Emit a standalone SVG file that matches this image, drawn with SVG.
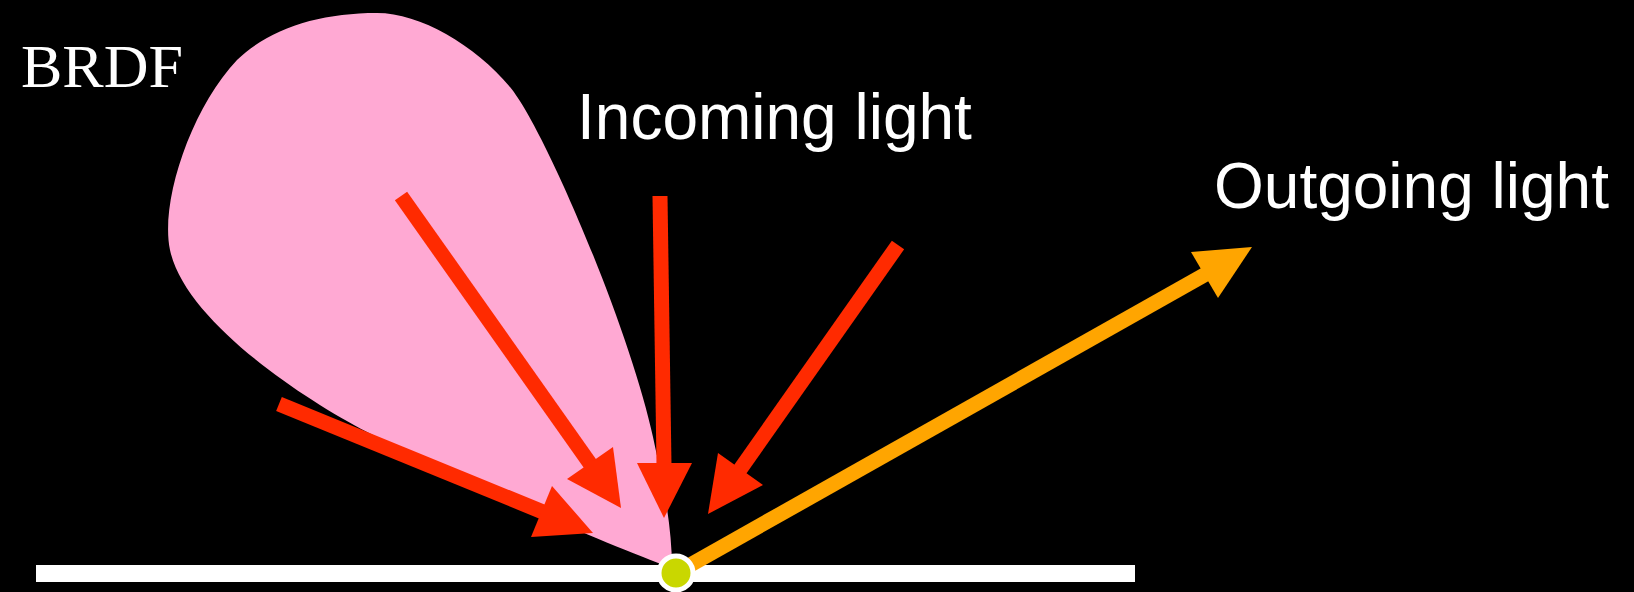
<svg xmlns="http://www.w3.org/2000/svg" width="1634" height="592" viewBox="0 0 1634 592">
<style>
.label{fill:#ffffff;font-family:"Liberation Sans",Arial,sans-serif;font-size:64px}
.serif{fill:#ffffff;font-family:"Liberation Serif","Times New Roman",serif;font-size:62px}
.red line{stroke:#ff2a00;stroke-width:15}
.red polygon{fill:#ff2a00}
.out line{stroke:#ffa500;stroke-width:15}
.out polygon{fill:#ffa500}
</style>
<rect x="0" y="0" width="1634" height="592" fill="#000000"/>
<g id="brdf-lobe">
<path d="M 672,568 C 600,542 460,480 367,432 C 300,397 185,320 170,250 C 160,203 190,110 237,60 C 270,28 320,13 377,13 C 420,13 475,45 510,87 C 545,129 630,330 653,437 C 660,470 672,520 672,568 Z" fill="#ffa9d3"/>
</g>
<g id="surface">
<rect x="36" y="565" width="1099" height="17" fill="#ffffff"/>
</g>
<g id="connectors">
<g id="in1" class="red">
<line x1="279" y1="404" x2="543" y2="512"/>
<polygon points="531,537 552,486 593,533"/>
</g>
<g id="in2" class="red">
<line x1="401" y1="196" x2="591" y2="465"/>
<polygon points="567,479 613,447 621,508"/>
</g>
<g id="in3" class="red">
<line x1="660" y1="196" x2="664" y2="465"/>
<polygon points="637,463 692,463 664,518"/>
</g>
<g id="in4" class="red">
<line x1="898" y1="245" x2="739" y2="471"/>
<polygon points="718,453 763,485 708,514"/>
</g>
<g id="out" class="out">
<line x1="676" y1="573" x2="1206" y2="274"/>
<polygon points="1252,247 1191,252 1218,298"/>
</g>
</g>
<g id="point">
<circle cx="676" cy="573" r="17" fill="#c9d700" stroke="#ffffff" stroke-width="5"/>
</g>
<g id="label-brdf"><text class="serif" x="21" y="87">BRDF</text></g>
<g id="label-incoming"><text class="label" x="577" y="139">Incoming light</text></g>
<g id="label-outgoing"><text class="label" x="1214" y="208">Outgoing light</text></g>
</svg>
